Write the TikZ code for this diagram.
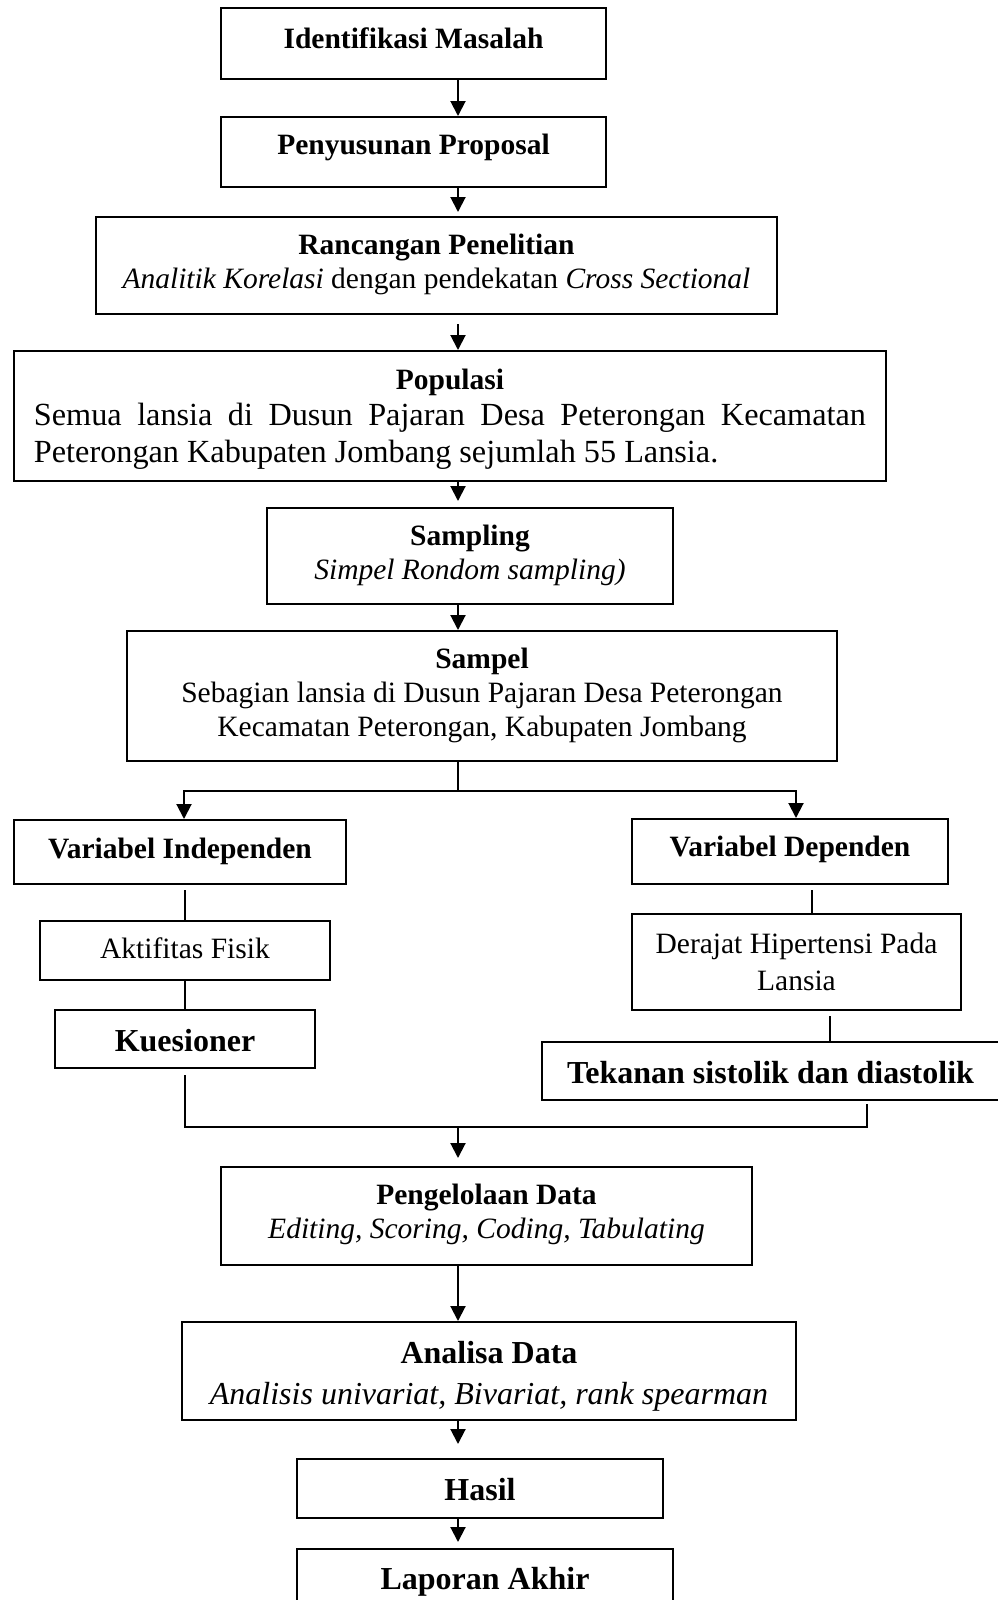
\documentclass[tikz,border=0pt]{standalone}
\usepackage{fontspec}
\setmainfont{Liberation Serif}
\usepackage{tikz}
\usetikzlibrary{arrows.meta}
\newcommand{\fkecil}{\fontsize{11.8}{13.6}\selectfont}
\newcommand{\fbesar}{\fontsize{12.8}{16.4}\selectfont}
\tikzset{
  kotak/.style={draw, line width=0.8pt, align=center, anchor=north, inner xsep=0pt, inner ysep=0pt, font=\fkecil},
  panah/.style={line width=0.8pt, -{Triangle[length=6pt,width=6pt]}},
  garis/.style={line width=0.7pt}
}
\begin{document}
\begin{tikzpicture}[x=0.4pt, y=-0.4pt]
  \useasboundingbox (0,0) rectangle (998,1600);
  \clip (0,0) rectangle (998,1600);
  \coordinate (sumbu) at (458,0);
  \node[kotak, minimum width=154pt, text height=16pt, text depth=12.4pt] (idm) at (413.5,7) {\textbf{Identifikasi Masalah}};
  \node[kotak, minimum width=154pt, text height=14.8pt, text depth=13.2pt] (prop) at (413.5,116) {\textbf{Penyusunan Proposal}};
  \node[kotak, minimum width=272.4pt, text height=28.4pt, text depth=10.4pt] (rancang) at (436.5,216) {\textbf{Rancangan Penelitian}\\ \textit{Analitik Korelasi} dengan pendekatan \textit{Cross Sectional}};
  \node[kotak, minimum width=348.8pt, text width=332.8pt, align=justify, text height=15.2pt, text depth=36.8pt, font=\fontsize{12.9}{14.6}\selectfont] (populasi) at (450,350) {\hfill{\fkecil\textbf{Populasi}}\hfill\null\par Semua lansia di Dusun Pajaran Desa Peterongan Kecamatan\linebreak Peterongan Kabupaten Jombang sejumlah 55 Lansia.};
  \node[kotak, minimum width=162.4pt, text height=28.4pt, text depth=10pt] (sampling) at (470,507) {\textbf{Sampling}\\ \textit{Simpel Rondom sampling)}};
  \node[kotak, minimum width=284pt, text height=42pt, text depth=10pt] (sampel) at (482,630) {\textbf{Sampel}\\ Sebagian lansia di Dusun Pajaran Desa Peterongan\\ Kecamatan Peterongan, Kabupaten Jombang};
  \node[kotak, minimum width=132.8pt, text height=15.2pt, text depth=10.4pt] (vi) at (180,819) {\textbf{Variabel Independen}};
  \node[kotak, minimum width=126.4pt, text height=14.8pt, text depth=11.2pt] (vd) at (790,818) {\textbf{Variabel Dependen}};
  \node[kotak, minimum width=116pt, text height=14.8pt, text depth=8.8pt] (aktif) at (185,920) {Aktifitas Fisik};
  \node[kotak, minimum width=104pt, text height=16.4pt, text depth=6.8pt, font=\fbesar] (kues) at (185,1009) {\textbf{Kuesioner}};
  \node[kotak, minimum width=131.6pt, text height=30.4pt, text depth=8pt, font=\fontsize{11.8}{14.8}\selectfont] (derajat) at (796.5,913) {Derajat Hipertensi Pada\\ Lansia};
  \node[kotak, minimum width=182.8pt, text height=16.4pt, text depth=6.8pt, font=\fbesar] (tekanan) at (770.5,1041) {\textbf{Tekanan sistolik dan diastolik}};
  \node[kotak, minimum width=212.4pt, text height=28.4pt, text depth=10.8pt] (olah) at (486.5,1166) {\textbf{Pengelolaan Data}\\ \textit{Editing, Scoring, Coding, Tabulating}};
  \node[kotak, minimum width=245.6pt, text height=32.8pt, text depth=6.4pt, font=\fbesar] (analisa) at (489,1321) {\textbf{Analisa Data}\\ \textit{Analisis univariat, Bivariat, rank spearman}};
  \node[kotak, minimum width=146.4pt, text height=16.4pt, text depth=7.2pt, font=\fbesar] (hasil) at (480,1458) {\textbf{Hasil}};
  \node[kotak, minimum width=150.4pt, text height=16pt, text depth=8pt, font=\fbesar] (laporan) at (485,1548) {\textbf{Laporan Akhir}};
  \draw[panah] (idm.south -| sumbu) -- (prop.north -| sumbu);
  \draw[panah, shorten >=1.6pt] (prop.south -| sumbu) -- (rancang.north -| sumbu);
  \draw[panah, shorten <=3.6pt] (rancang.south -| sumbu) -- (populasi.north -| sumbu);
  \draw[panah, shorten >=2.4pt] (populasi.south -| sumbu) -- (sampling.north -| sumbu);
  \draw[panah] (sampling.south -| sumbu) -- (sampel.north -| sumbu);
  \coordinate (cabang) at (458,791);
  \draw[garis] (sampel.south -| sumbu) -- (cabang);
  \draw[panah] (cabang) -| ([xshift=1.6pt]vi.north);
  \draw[panah] (cabang) -| ([xshift=2.4pt]vd.north);
  \draw[garis, shorten <=2pt] (vi.south -| aktif.north) -- (aktif.north);
  \draw[garis] (aktif.south) -- (kues.north);
  \draw[garis, shorten <=2pt] ([xshift=8.8pt]vd.south) -- ([xshift=8.8pt]vd.south |- derajat.north);
  \draw[garis, shorten <=2pt] ([xshift=13.4pt]derajat.south) -- ([xshift=13.4pt]derajat.south |- tekanan.north);
  \coordinate (gabung) at (458,1127);
  \draw[garis, shorten <=2.4pt] (kues.south) |- (gabung);
  \draw[garis, shorten <=1.2pt] ([xshift=38.6pt]tekanan.south) |- (gabung);
  \draw[panah, shorten >=3.2pt] (gabung) -- (olah.north -| gabung);
  \draw[panah] (olah.south -| sumbu) -- (analisa.north -| sumbu);
  \draw[panah, shorten >=5.6pt] (analisa.south -| sumbu) -- (hasil.north -| sumbu);
  \draw[panah, shorten >=2.4pt] (hasil.south -| sumbu) -- (laporan.north -| sumbu);
\end{tikzpicture}
\end{document}
